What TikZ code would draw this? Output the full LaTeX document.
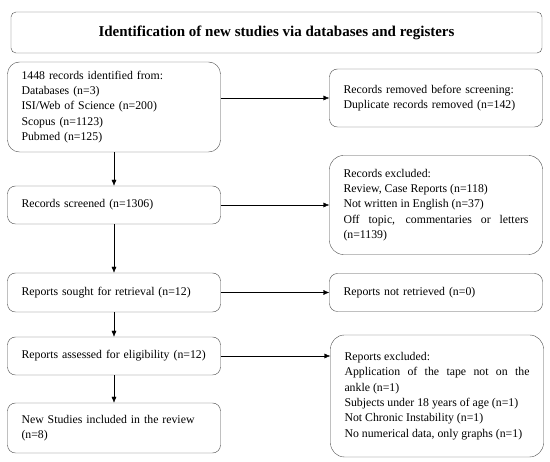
\documentclass[tikz,border=0pt]{standalone}
\usepackage{fontspec}
\setmainfont{Liberation Serif}
\usetikzlibrary{positioning,arrows.meta}
\hyphenpenalty=10000
\exhyphenpenalty=10000

\begin{document}
\begin{tikzpicture}[-{Latex[length=6pt ,width=5pt]} ,auto ,node distance =1cm and 4cm ,on grid ,
thin ,x=1pt ,y=1pt ,
box/.style ={rectangle ,draw=black!70 ,rounded corners=8pt ,
minimum width =213pt ,minimum height =38pt ,text width =185pt ,
inner xsep =14pt ,align=left ,font=\fontsize{11.8}{15.3}\selectfont},
bigbox/.style={box ,rounded corners=14pt ,align=justify},
headbox/.style={rectangle ,draw=black!70 ,rounded corners=5pt ,
minimum width =531pt ,minimum height =41pt ,
font=\fontsize{15}{17}\selectfont\bfseries}
]
\useasboundingbox (0,0) rectangle (550,-462);
\node[headbox] (head) at (276.5,-32.5)
    {Identification of new studies via databases and registers};
\node[box ,minimum height=90pt ,rounded corners=12pt] (ident)
    [below left = 74.5pt and 162.5pt of head]
    {1448 records identified from:\\ Databases (n=3)\\
     ISI/Web of Science (n=200)\\ Scopus (n=1123)\\ Pubmed (n=125)};
\node[box ,minimum height=58pt] (removed) [above right = 9pt and 322pt of ident]
    {Records removed before screening:\\ Duplicate records removed (n=142)};
\node[box] (screened) [below = 98pt of ident] {Records screened (n=1306)};
\node[bigbox ,minimum height=99pt] (excl1) [right = 322pt of screened]
    {Records excluded:\\ Review, Case Reports (n=118)\\
     Not written in English (n=37)\\
     Off topic, commentaries or letters\linebreak (n=1139)};
\node[box ,minimum height=39pt] (sought) [below = 87.5pt of screened]
    {Reports sought for retrieval (n=12)};
\node[box] (notret) [right = 322pt of sought] {Reports not retrieved (n=0)};
\node[box] (assessed) [below = 63.5pt of sought]
    {Reports assessed for eligibility (n=12)};
\node[bigbox ,minimum height=122pt] (excl2)
    [below right = 40pt and 323pt of assessed]
    {Reports excluded:\\
     Application of the tape not on the\linebreak ankle (n=1)\\
     Subjects under 18 years of age (n=1)\\
     Not Chronic Instability (n=1)\\
     No numerical data, only graphs (n=1)};
\node[box ,minimum height=50pt] (included) [below = 72pt of assessed]
    {New Studies included in the review (n=8)};
\draw (ident) -- (screened);
\draw (screened) -- (sought);
\draw (sought) -- (assessed);
\draw (assessed) -- (included);
\draw (ident.east |- removed.west) -- (removed.west);
\draw (screened) -- (excl1);
\draw (sought) -- (notret);
\draw (assessed.east) -- (assessed.east -| excl2.west);
\end{tikzpicture}
\end{document}
